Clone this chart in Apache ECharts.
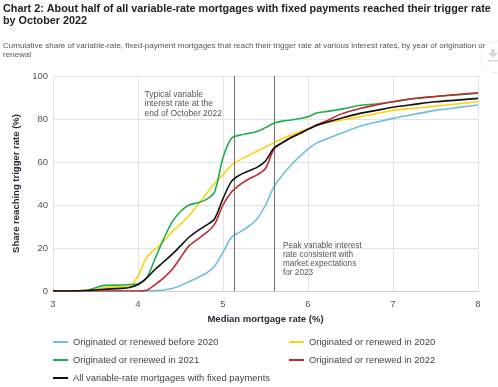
<!DOCTYPE html>
<html><head><meta charset="utf-8">
<script src="https://cdn.jsdelivr.net/npm/echarts@6/dist/echarts.min.js"></script>
<style>html,body{margin:0;padding:0;background:#fff}#c{width:498px;height:387px}</style>
</head><body><div id="c"></div>
<script>
const rates = [3.0,3.2,3.4,3.5,3.6,3.8,3.9,4.0,4.1,4.2,4.3,4.4,4.5,4.6,4.7,4.8,4.9,5.0,5.1,5.2,5.3,5.4,5.5,5.6,5.7,5.8,5.9,6.0,6.1,6.2,6.4,6.6,6.8,7.0,7.25,7.5,7.75,8.0];
const before2020 = [0,0,0,0,0,0,0,0,0,0.2,0.5,1.2,2.5,4.3,6.2,8.2,11.5,18,25,27.5,30,33.5,40,48.5,54,58.5,62.5,66,68.8,70.5,73.5,76.5,78.5,80.3,82.2,84,85.3,86.5];
const in2020 = [0,0,0.3,1,1.5,2,2.2,7,15.5,19.5,23,27.5,31,35,40,45,50,54,58.5,61,63,65,67,69,71,72.6,74,75.5,77,78,79.5,81,82.5,84,85,86,87,88];
const in2021 = [0,0,0.3,1.5,2.6,2.8,3,3.3,6,15,24,32,37,40,41,42.5,46,62,71,72.5,73.3,74.2,76,78,79,79.5,80.2,81,82.8,83.4,84.6,86.3,87,88,89.5,90.5,91.2,92];
const in2022 = [0,0,0,0,0,0,0,0,0.3,3,6,10,15.5,21,24,27,31,40,46,49.5,52,54,57,66,69,71.5,73.3,75.3,77.2,78.8,82.5,84.8,86.5,88,89.5,90.5,91.4,92.2];
const allMortgages = [0,0,0.2,0.5,0.8,1.2,1.6,3,6,10,13.5,17,21,25,28,30.5,33.5,43,51,54,55.8,57.5,60.5,66.5,69,71.3,73.2,75.2,77,78.3,80.5,82.5,84,85.5,86.8,88,88.8,89.6];
const seriesNames = ['Originated or renewed before 2020','Originated or renewed in 2020','Originated or renewed in 2021','Originated or renewed in 2022','All variable-rate mortgages with fixed payments'];
const seriesValues = [before2020,in2020,in2021,in2022,allMortgages];
const seriesColors = ['#6cbfe2','#fdd20e','#1fae4f','#c1272d','#111111'];
const refRates = [5.13, 5.6];

const chart = echarts.init(document.getElementById('c'));
const series = seriesNames.map((n,i)=>({
  name:n, type:'line', smooth:0.3, showSymbol:false, symbol:'none',
  lineStyle:{width:1.6,color:seriesColors[i]}, itemStyle:{color:seriesColors[i]},
  data: rates.map((r,j)=>[r,seriesValues[i][j]]), z: 3+i,
  markLine: i===0 ? {silent:true,symbol:'none',label:{show:false},lineStyle:{color:'#707070',width:1,type:'solid'},data:refRates.map(v=>({xAxis:v}))} : undefined
}));
const font = 'Liberation Sans, Arial, sans-serif';
const legendPos = [[53,337.5],[289,337.5],[53,355.5],[289,355.5],[53,373.5]];
const legends = seriesNames.map((n,i)=>({data:[n],left:legendPos[i][0],top:legendPos[i][1],padding:0,itemWidth:15,itemHeight:2,itemGap:0,icon:'rect',textStyle:{fontSize:9.4,color:'#444'}}));
chart.setOption({
  animation:false,
  textStyle:{fontFamily:font},
  title:[{text:'Chart 2: About half of all variable-rate mortgages with fixed payments reached their trigger rate\nby October 2022',left:3,top:3,padding:0,
    textStyle:{fontSize:10.8,fontWeight:'bold',color:'#222',lineHeight:12,fontFamily:font}},
   {text:'Cumulative share of variable-rate, fixed-payment mortgages that reach their trigger rate at various interest rates, by year of origination or\nrenewal',left:3,top:41,padding:0,
    textStyle:{fontSize:8,fontWeight:'normal',color:'#555',lineHeight:9.5,fontFamily:font}}],
  grid:{left:53,right:20,top:76,bottom:96},
  xAxis:{type:'value',min:3,max:8,interval:1,name:'Median mortgage rate (%)',nameLocation:'middle',nameGap:22,
    nameTextStyle:{fontSize:9.5,fontWeight:'bold',color:'#2a2a3a'},
    axisLine:{show:true,lineStyle:{color:'#ccc'}},axisTick:{show:false},
    axisLabel:{fontSize:9.5,color:'#555',margin:8},
    splitLine:{show:true,lineStyle:{color:'#e3e3e3'}}},
  yAxis:{type:'value',min:0,max:100,interval:20,name:'Share reaching trigger rate (%)',nameLocation:'middle',nameGap:26,
    nameTextStyle:{fontSize:9.5,fontWeight:'bold',color:'#2a2a3a'},
    axisLine:{show:false},axisTick:{show:false},
    axisLabel:{fontSize:9.5,color:'#555',margin:5},
    splitLine:{show:true,lineStyle:{color:'#e3e3e3'}}},
  legend:legends,
  graphic:[
    {type:'text',right:276,top:90,style:{text:'Typical variable\ninterest rate at the\nend of October 2022',fill:'#555',fontSize:8.5,lineHeight:9.3,align:'right',fontFamily:font}},
    {type:'text',left:283,top:241,style:{text:'Peak variable interest\nrate consistent with\nmarket expectations\nfor 2023',fill:'#555',fontSize:8.2,lineHeight:9.2,align:'left',fontFamily:font}},
    {type:'circle',shape:{cx:497,cy:57,r:16},style:{fill:'rgba(255,255,255,0.85)',stroke:'#ececec',lineWidth:1},z:100},
    {type:'polygon',shape:{points:[[491,49],[495,49],[495,53],[498,53],[493,58],[488,53],[491,53]]},style:{fill:'#d8d8d8'},z:101},
    {type:'rect',shape:{x:487,y:60,width:12,height:1.5},style:{fill:'#d8d8d8'},z:101}
  ],
  series:series
});
</script></body></html>
